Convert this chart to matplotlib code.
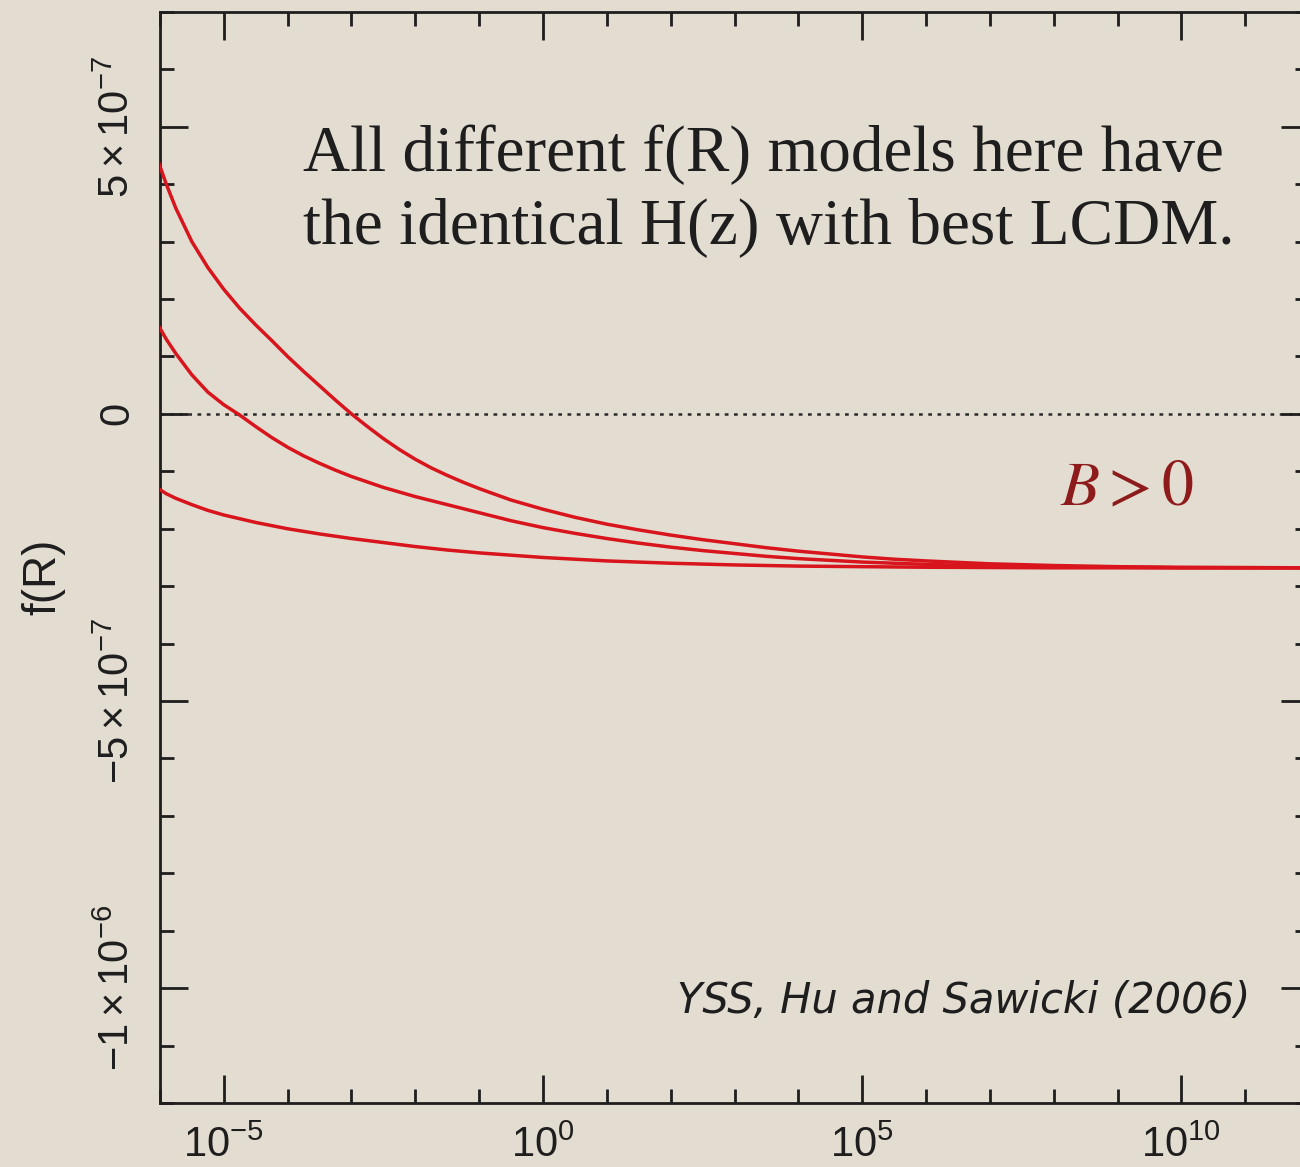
import numpy as np
import matplotlib
matplotlib.use("Agg")
import matplotlib.pyplot as plt
from matplotlib.ticker import NullFormatter

plt.rcParams['font.family'] = 'Liberation Sans'
plt.rcParams['mathtext.fontset'] = 'custom'
plt.rcParams['mathtext.rm'] = 'Liberation Sans'
plt.rcParams['mathtext.it'] = 'Liberation Sans:italic'

BG = '#e3ddd1'
RED = '#d8141c'
INK = '#1e1e1e'

# three f(R) models: log10(R) and f(R) in units of 1e-7
logR_1 = [-6.04, -5.9, -5.75, -5.5, -5.25, -5.0, -4.75, -4.5, -4.25, -4.0,
          -3.75, -3.5, -3.25, -3.0, -2.75, -2.5, -2.25, -2.0, -1.75, -1.5,
          -1.25, -1.0, -0.5, 0.0, 0.5, 1.0, 1.5, 2.0, 2.5, 3.0,
          3.5, 4.0, 4.5, 5.0, 5.5, 6.0, 7.0, 8.0, 9.0, 10.0, 12.0]
f_1 = [4.44, 4.00, 3.58, 3.00, 2.55, 2.17, 1.84, 1.55, 1.28, 1.00,
       0.74, 0.49, 0.24, 0.00, -0.22, -0.43, -0.62, -0.79, -0.94, -1.07,
       -1.19, -1.30, -1.50, -1.66, -1.80, -1.92, -2.02, -2.11, -2.19, -2.26,
       -2.33, -2.39, -2.44, -2.49, -2.53, -2.56, -2.61, -2.64, -2.66, -2.67, -2.68]

logR_2 = [-6.04, -5.9, -5.75, -5.5, -5.25, -5.0, -4.75, -4.5, -4.25, -4.0,
          -3.75, -3.5, -3.25, -3.0, -2.5, -2.0, -1.5, -1.0, -0.5, 0.0,
          0.5, 1.0, 1.5, 2.0, 2.5, 3.0, 3.5, 4.0, 4.5, 5.0,
          5.5, 6.0, 7.0, 8.0, 9.0, 10.0, 12.0]
f_2 = [1.57, 1.30, 1.05, 0.68, 0.38, 0.16, -0.02, -0.22, -0.41, -0.58,
       -0.73, -0.86, -0.98, -1.09, -1.28, -1.44, -1.58, -1.72, -1.86, -1.98,
       -2.08, -2.17, -2.25, -2.32, -2.38, -2.43, -2.48, -2.52, -2.55, -2.58,
       -2.60, -2.62, -2.65, -2.66, -2.67, -2.68, -2.68]

logR_3 = [-6.04, -5.9, -5.75, -5.5, -5.25, -5.0, -4.5, -4.0, -3.5, -3.0,
          -2.5, -2.0, -1.5, -1.0, -0.5, 0.0, 0.5, 1.0, 1.5, 2.0,
          3.0, 4.0, 5.0, 6.0, 8.0, 12.0]
f_3 = [-1.29, -1.39, -1.47, -1.58, -1.68, -1.76, -1.89, -2.00, -2.09, -2.17,
       -2.24, -2.31, -2.37, -2.42, -2.46, -2.50, -2.53, -2.56, -2.58, -2.60,
       -2.63, -2.65, -2.66, -2.67, -2.68, -2.68]

x_major = [1e-5, 1e0, 1e5, 1e10]
x_major_labels = [r'$10^{-5}$', r'$10^{0}$', r'$10^{5}$', r'$10^{10}$']
y_major = [-1e-6, -5e-7, 0.0, 5e-7]
y_major_labels = [r'$-1\times10^{-6}$', r'$-5\times10^{-7}$', '0', r'$5\times10^{-7}$']

fig = plt.figure(figsize=(13, 11.67), dpi=100, facecolor=BG)
ax = fig.add_axes([0.123, 0.0548, 0.884, 0.935])
ax.set_facecolor(BG)

ax.axhline(0, color='#2a2a2a', lw=1.8, ls=(0, (1.5, 2.2)), zorder=1)

for lr, f in [(logR_1, f_1), (logR_2, f_2), (logR_3, f_3)]:
    ax.plot(10.0 ** np.array(lr), np.array(f) * 1e-7, color=RED, lw=2.5,
            solid_capstyle='round', zorder=3)

ax.set_xscale('log')
ax.set_xlim(1e-6, 1e12)
ax.set_ylim(-1.2e-6, 7e-7)

ax.set_xticks(x_major, labels=x_major_labels)
ax.set_xticks(10.0 ** np.arange(-6, 13), minor=True)
ax.xaxis.set_minor_formatter(NullFormatter())
ax.set_yticks(y_major, labels=y_major_labels)
ax.set_yticks(np.arange(-12, 8) * 1e-7, minor=True)

ax.tick_params(which='both', direction='in', top=True, right=True,
               width=2, color=INK, labelcolor=INK, labelsize=30)
ax.tick_params(which='major', length=20)
ax.tick_params(which='minor', length=10)
ax.tick_params(axis='x', pad=16)
ax.tick_params(axis='y', pad=16)
for lab in ax.get_yticklabels():
    lab.set_rotation(90)
    lab.set_va('center')

for s in ax.spines.values():
    s.set_linewidth(2)
    s.set_color(INK)

ax.set_ylabel('f(R)', fontsize=33, color=INK)
ax.yaxis.set_label_coords(-0.082, 0.482)

ax.text(0.1245, 0.8542, 'All different f(R) models here have', transform=ax.transAxes,
        family='Liberation Serif', fontsize=47, va='baseline', color=INK)
ax.text(0.1245, 0.7873, 'the identical H(z) with best LCDM.', transform=ax.transAxes,
        family='Liberation Serif', fontsize=47, va='baseline', color=INK)
ax.text(0.783, 0.548, r'$B>0$', transform=ax.transAxes, math_fontfamily='stix',
        fontsize=46, va='baseline', color='#8e1b1b')
ax.text(0.9487, 0.0825, 'YSS, Hu and Sawicki (2006)', transform=ax.transAxes,
        family='DejaVu Sans', style='oblique', fontsize=30, ha='right', va='baseline',
        color=INK)

fig.savefig('out.png', dpi=100, facecolor=BG)
